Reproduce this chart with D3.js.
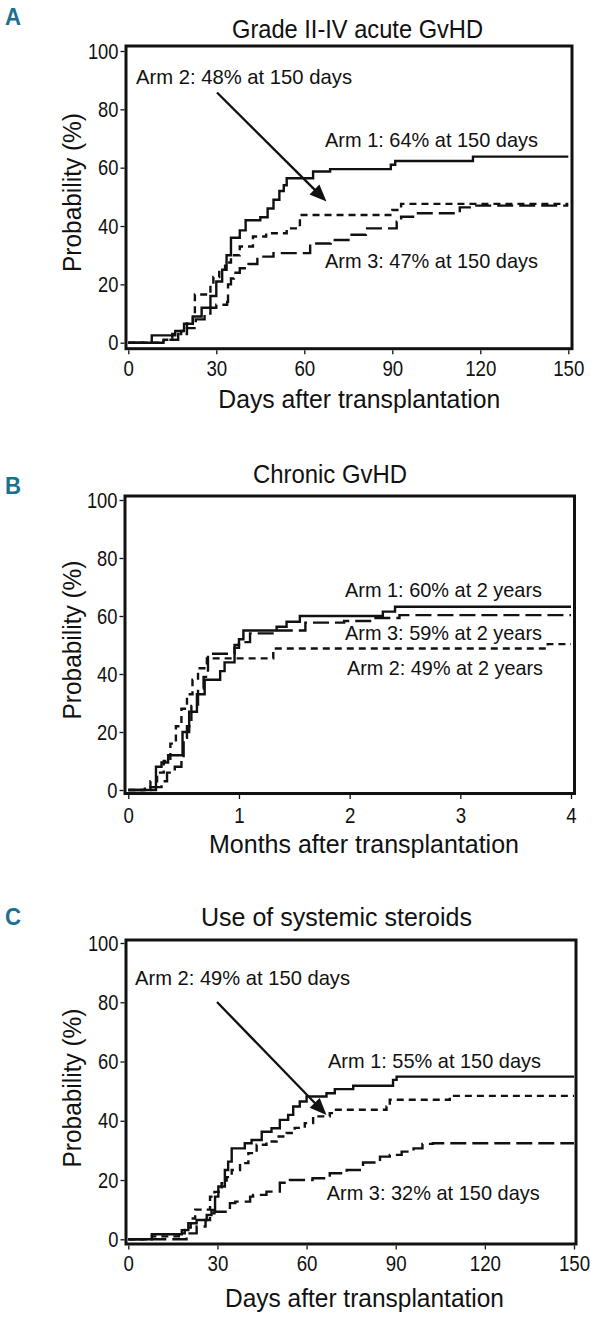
<!DOCTYPE html>
<html><head><meta charset="utf-8">
<script src="https://cdn.jsdelivr.net/npm/d3@7"></script>
<style>
body{margin:0;background:#fff}
svg{display:block}
text{font-family:"Liberation Sans",Arial,sans-serif;fill:#111}
</style>
</head><body>
<svg id="chart" width="598" height="1321"></svg>
<script>
// ---------------- DATA ----------------
const dayTicks = [0, 30, 60, 90, 120, 150];
const monthTicks = [0, 1, 2, 3, 4];
const probTicks = [0, 20, 40, 60, 80, 100];
const panelLetters = ["A", "B", "C"];
const panelTitles = ["Grade II-IV acute GvHD", "Chronic GvHD", "Use of systemic steroids"];
const xAxisTitles = ["Days after transplantation", "Months after transplantation", "Days after transplantation"];
const yAxisTitle = "Probability (%)";

// Panel A: grade II-IV acute GvHD  [day, %]
const A_arm1 = [[0,0],[8,2.5],[16,4],[19,6.5],[22,9],[25,12],[28,16],[30,21],[32,25],[33.5,30],[35,36],[38,38.5],[40,42],[45,43],[47.5,46],[49.5,49],[51.5,52],[53,54],[54,56.4],[63,58.7],[68.8,59.5],[89.5,61],[91,62.3],[117.5,63.8],[150,63.8]];
const A_arm2 = [[0,0],[12,1],[15,3],[18,4],[20,7],[22,10],[22.7,16.5],[27,17.5],[28,19.5],[29,22.5],[31,25],[33,27.5],[35,30],[38,33],[42.5,36.4],[47,37.5],[54,39.2],[58.5,43.8],[90,45.5],[93,47.6],[150,47.6]];
const A_arm3 = [[0,0],[12,1],[17,3],[20,5],[23,8],[26,10],[28,12],[30,13],[33.7,14],[34,20],[35,22],[36,24],[38,25.5],[41,27],[44,29.5],[49.5,30.7],[62,34],[69,35.2],[75.6,37],[81,39.2],[91.5,41.5],[93,43.2],[98,44.4],[113,46.4],[118,47],[150,47]];
const A_labels = ["Arm 1: 64% at 150 days", "Arm 2: 48% at 150 days", "Arm 3: 47% at 150 days"];

// Panel B: chronic GvHD  [month, %]
const B_arm1 = [[0,0],[0.25,8],[0.3,9.5],[0.36,12],[0.49,20],[0.55,27],[0.62,33],[0.69,38],[0.83,41],[0.87,44],[0.96,50],[1.0,52],[1.04,55],[1.34,56.3],[1.43,58],[1.55,60],[2.3,61.5],[2.41,63.2],[4,63.2]];
const B_arm2 = [[0,0],[0.15,1],[0.2,3],[0.26,6],[0.32,10],[0.38,16],[0.43,22],[0.48,28],[0.53,33],[0.58,38],[0.63,42],[0.71,45.4],[1.31,48.8],[3.79,50.3],[4,50.3]];
const B_arm3 = [[0,0],[0.2,1],[0.3,3],[0.35,6],[0.42,8],[0.48,11],[0.5,18],[0.53,22],[0.57,29],[0.63,35],[0.68,39],[0.72,47],[0.96,49],[1.0,51],[1.1,54],[1.35,55],[1.6,57.7],[1.95,58.3],[2.2,59.3],[2.45,60.3],[4,60.3]];
const B_labels = ["Arm 1: 60% at 2 years", "Arm 2: 49% at 2 years", "Arm 3: 59% at 2 years"];

// Panel C: use of systemic steroids  [day, %]
const C_arm1 = [[0,0],[7.9,1.7],[18,3.1],[20.2,5.4],[23,6.5],[26.4,8.2],[28,9.9],[29.2,14.4],[30.3,17.8],[32.5,23.4],[33.6,26.2],[34.8,30.7],[39.2,32.4],[41.5,33.5],[44.9,36.3],[48.2,37.5],[51,40.3],[53.8,42],[55.5,44.8],[57.7,46.5],[60,48.2],[66.7,49.3],[69.5,50.7],[75.7,51.8],[89.1,53.8],[90.3,54.9],[150,54.9]];
const C_arm2 = [[0,0],[8,1],[17,2],[19,4],[21,7],[22.5,10],[27.5,14.4],[29,16],[31.4,18.9],[33.1,21],[34.8,23.4],[37.6,25.7],[40.4,29.1],[43.2,31.9],[46.5,33],[49.9,34.7],[53.3,35.9],[56,37.6],[59.4,39.2],[62.2,41.5],[67.8,42.6],[69.5,43.7],[86.9,44.8],[88,47.1],[108.2,48.4],[150,48.4]];
const C_arm3 = [[0,0],[19.6,2],[23,4.3],[26,6.5],[27.5,8.8],[29,9.3],[34.2,12.2],[36,12.7],[41,14.4],[42,15],[46.5,16.1],[51,19.1],[54.4,20],[62,20.6],[67.8,22.3],[73.5,23.4],[79,25.9],[84.7,27.9],[88,28.5],[92,29.6],[96,30.7],[99,32.2],[102.5,32.4],[150,32.4]];
const C_labels = ["Arm 1: 55% at 150 days", "Arm 2: 49% at 150 days", "Arm 3: 32% at 150 days"];

// ---------------- LAYOUT ----------------
const svg = d3.select("#chart");
const teal = "#19708f";
const dashStyles = [null, "7,5", "16,6"];
const fmt = d => String(d);

const panels = [
  { letter: panelLetters[0], title: panelTitles[0], xt: xAxisTitles[0], ticks: dayTicks, dom: [0,150],
    series: [A_arm1, A_arm2, A_arm3], labels: A_labels,
    frame: {l:126, r:572, t:46, b:348.7}, xr:[128.3,568.3], yr:[342.7,51],
    letterY: 25, titleX: 232, titleY: 38, titleW: 251,
    tickDy: 19.3, xtY: 408, xtX: 218.3, xtW: 282, ytY: 192.5,
    labPos: [[325,146.7,213],[136,84,216],[325,268,213]],
    arrow: [[217,92.5],[326.5,201.5]] },
  { letter: panelLetters[1], title: panelTitles[1], xt: xAxisTitles[1], ticks: monthTicks, dom: [0,4],
    series: [B_arm1, B_arm2, B_arm3], labels: B_labels,
    frame: {l:125, r:574.5, t:496, b:793.5}, xr:[128.3,571], yr:[790,500],
    letterY: 494, titleX: 253, titleY: 483, titleW: 154,
    tickDy: 21.5, xtY: 852.5, xtX: 209, xtW: 310, ytY: 640,
    labPos: [[345,596.7,197],[347,675,196],[345,640,197]],
    arrow: null },
  { letter: panelLetters[2], title: panelTitles[2], xt: xAxisTitles[2], ticks: dayTicks, dom: [0,150],
    series: [C_arm1, C_arm2, C_arm3], labels: C_labels,
    frame: {l:126, r:576, t:940, b:1244}, xr:[128.3,574], yr:[1239.3,943],
    letterY: 925, titleX: 201, titleY: 926, titleW: 271,
    tickDy: 19, xtY: 1306.7, xtX: 225, xtW: 279, ytY: 1088,
    labPos: [[328,1068.3,213],[135,984.5,215],[326.7,1200,213]],
    arrow: [[217,1002],[326.5,1115]] }
];

panels.forEach(p => {
  const g = svg.append("g");
  const x = d3.scaleLinear().domain(p.dom).range(p.xr);
  const y = d3.scaleLinear().domain([0,100]).range(p.yr);

  // panel letter
  g.append("text").attr("x", 5).attr("y", p.letterY)
    .attr("font-size", 24).attr("font-weight", "bold")
    .style("fill", teal).attr("textLength", 16).attr("lengthAdjust", "spacingAndGlyphs")
    .text(p.letter);

  // title
  g.append("text").attr("x", p.titleX).attr("y", p.titleY)
    .attr("font-size", 25).attr("textLength", p.titleW).attr("lengthAdjust", "spacingAndGlyphs")
    .text(p.title);

  // curves
  const line = d3.line().x(d => x(d[0])).y(d => y(d[1])).curve(d3.curveStepAfter);
  p.series.forEach((s, i) => {
    g.append("path").datum(s).attr("d", line)
      .attr("fill", "none").attr("stroke", "#111").attr("stroke-width", 2.4)
      .attr("stroke-dasharray", dashStyles[i]);
  });

  // frame
  g.append("rect").attr("x", p.frame.l).attr("y", p.frame.t)
    .attr("width", p.frame.r - p.frame.l).attr("height", p.frame.b - p.frame.t)
    .attr("fill", "none").attr("stroke", "#111").attr("stroke-width", 3);

  // y axis
  const ya = g.append("g").attr("transform", `translate(${p.frame.l - 1.5},0)`)
    .call(d3.axisLeft(y).tickValues(probTicks).tickFormat(fmt).tickSize(4).tickPadding(2));
  ya.select(".domain").remove();
  ya.selectAll("line").attr("stroke", "#111").attr("stroke-width", 1.3);
  ya.selectAll("text").attr("font-size", 22).style("font-family", '"Liberation Sans",Arial,sans-serif')
    .style("fill", "#111")
    .attr("textLength", d => fmt(d).length * 10.2).attr("lengthAdjust", "spacingAndGlyphs");

  // x axis
  const xa = g.append("g").attr("transform", `translate(0,${p.frame.b + 1.5})`)
    .call(d3.axisBottom(x).tickValues(p.ticks).tickFormat(fmt).tickSize(4));
  xa.select(".domain").remove();
  xa.selectAll("line").attr("stroke", "#111").attr("stroke-width", 1.3);
  xa.selectAll("text").attr("font-size", 22).style("font-family", '"Liberation Sans",Arial,sans-serif')
    .style("fill", "#111")
    .attr("y", p.tickDy - 1.5).attr("dy", "0.35em")
    .attr("textLength", d => fmt(d).length * 10.4).attr("lengthAdjust", "spacingAndGlyphs");

  // axis titles
  g.append("text").attr("x", p.xtX).attr("y", p.xtY)
    .attr("font-size", 25).attr("textLength", p.xtW).attr("lengthAdjust", "spacingAndGlyphs")
    .text(p.xt);
  g.append("text").attr("transform", `translate(81,${p.ytY}) rotate(-90)`)
    .attr("text-anchor", "middle").attr("font-size", 25)
    .attr("textLength", 159).attr("lengthAdjust", "spacingAndGlyphs")
    .text(yAxisTitle);

  // annotations
  p.labels.forEach((t, i) => {
    const [lx, ly, lw] = p.labPos[i];
    g.append("text").attr("x", lx).attr("y", ly)
      .attr("font-size", 21).attr("textLength", lw).attr("lengthAdjust", "spacingAndGlyphs")
      .text(t);
  });

  // arrow
  if (p.arrow) {
    const [[x0, y0], [x1, y1]] = p.arrow;
    const ang = Math.atan2(y1 - y0, x1 - x0);
    const hl = 17, hw = 7;
    const bx = x1 - hl * Math.cos(ang), by = y1 - hl * Math.sin(ang);
    g.append("line").attr("x1", x0).attr("y1", y0).attr("x2", bx + 2 * Math.cos(ang)).attr("y2", by + 2 * Math.sin(ang))
      .attr("stroke", "#111").attr("stroke-width", 2.3);
    const px = -Math.sin(ang), py = Math.cos(ang);
    g.append("path")
      .attr("d", `M${x1},${y1}L${bx + hw * px},${by + hw * py}L${bx - hw * px},${by - hw * py}Z`)
      .attr("fill", "#111");
  }
});
</script>
</body></html>
